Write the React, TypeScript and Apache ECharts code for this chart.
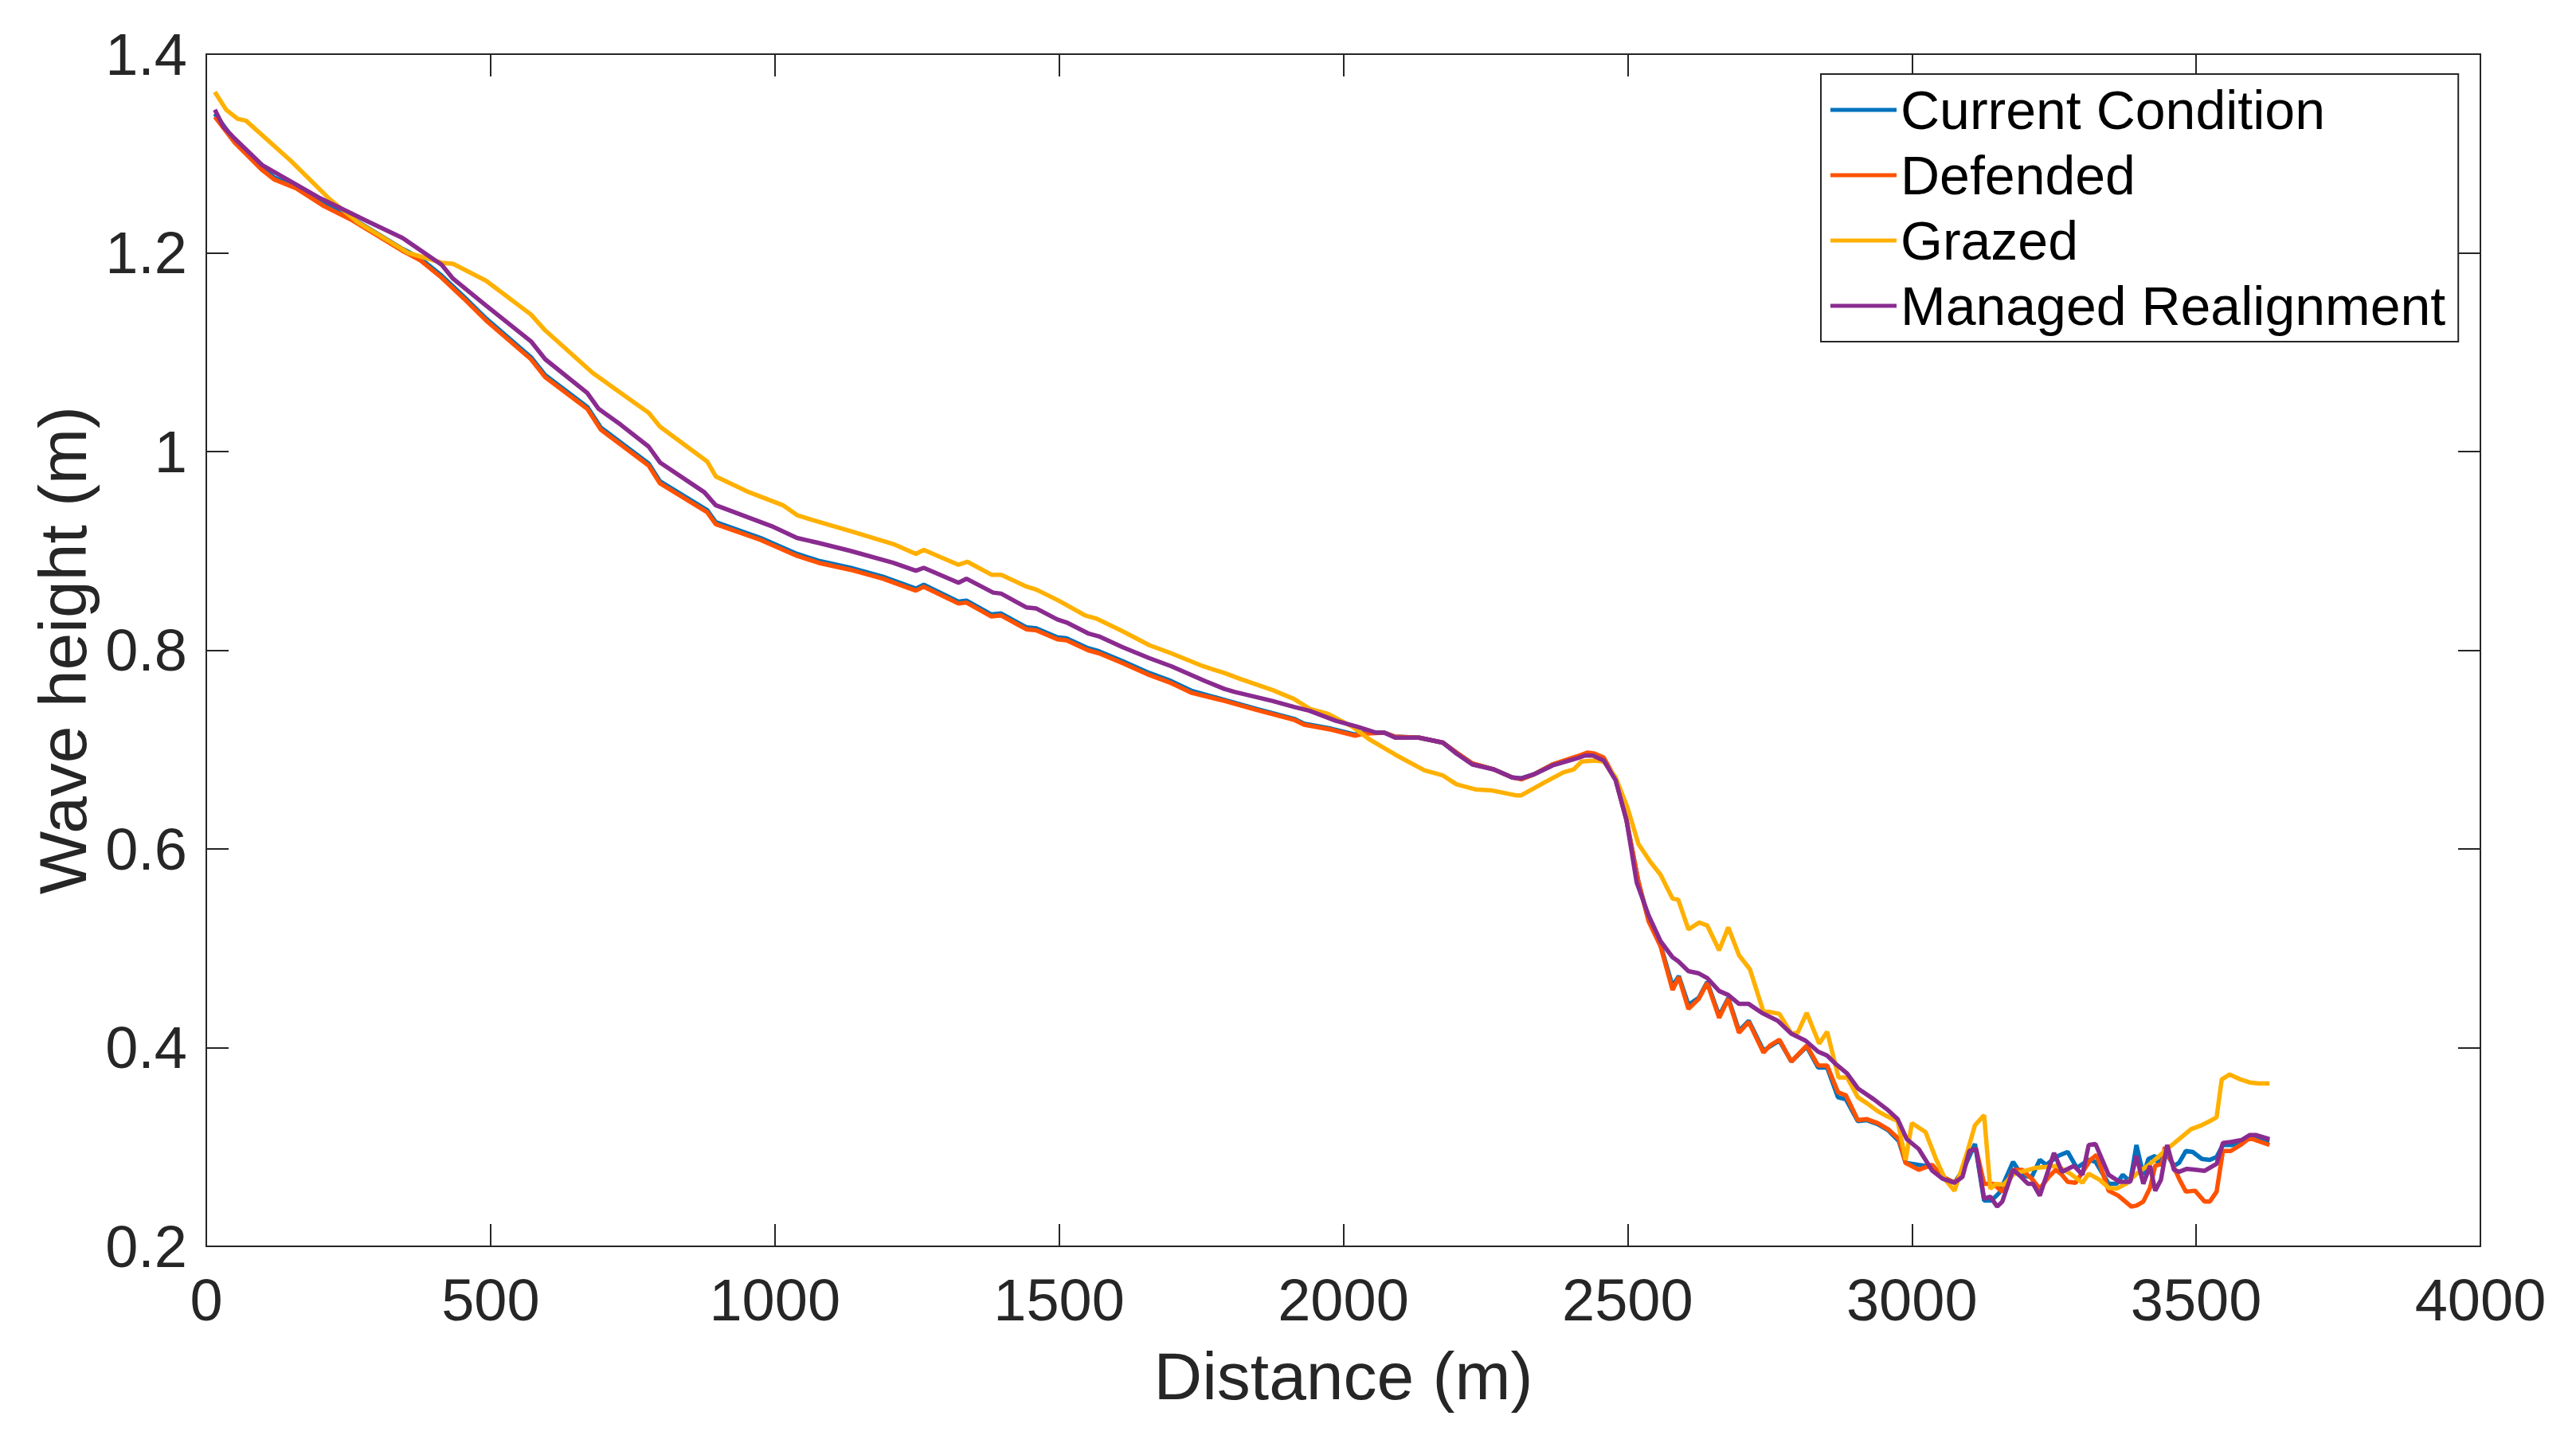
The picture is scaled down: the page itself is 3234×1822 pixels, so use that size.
import React, { useEffect, useRef } from "react";
import * as echarts from "echarts";

const seriesNames = ["Current Condition", "Defended", "Grazed", "Managed Realignment"];
const seriesColors = ["#0072BD", "#FF5200", "#FFB000", "#8A2B90"];

const xTicks = { min: 0, max: 4000, step: 500 };
const yTicks = { min: 0.2, max: 1.4, step: 0.2 };

const currentDist = [15, 50, 99, 119, 158, 207, 256, 345, 375, 414, 453, 492, 571, 596, 670, 694, 778, 798, 881, 896, 975, 1039, 1077, 1133, 1190, 1248, 1262, 1323, 1337, 1381, 1398, 1443, 1460, 1497, 1513, 1551, 1570, 1612, 1659, 1697, 1734, 1791, 1847, 1913, 1931, 1979, 2021, 2035, 2072, 2091, 2133, 2175, 2199, 2227, 2265, 2297, 2313, 2335, 2368, 2410, 2429, 2442, 2458, 2479, 2498, 2519, 2537, 2558, 2579, 2590, 2607, 2625, 2640, 2661, 2677, 2696, 2713, 2739, 2750, 2767, 2788, 2815, 2835, 2851, 2870, 2884, 2905, 2921, 2940, 2958, 2977, 2989, 3012, 3036, 3054, 3075, 3091, 3111, 3127, 3140, 3154, 3178, 3194, 3211, 3225, 3236, 3257, 3274, 3290, 3311, 3323, 3346, 3360, 3371, 3384, 3395, 3407, 3416, 3428, 3435, 3445, 3461, 3470, 3482, 3494, 3510, 3524, 3536, 3547, 3564, 3583, 3594, 3629];
const currentHeight = [1.340, 1.313, 1.285, 1.276, 1.266, 1.249, 1.235, 1.204, 1.195, 1.177, 1.156, 1.134, 1.095, 1.077, 1.045, 1.024, 0.988, 0.970, 0.941, 0.929, 0.913, 0.897, 0.890, 0.883, 0.874, 0.862, 0.866, 0.849, 0.850, 0.836, 0.837, 0.823, 0.822, 0.813, 0.812, 0.802, 0.799, 0.789, 0.777, 0.769, 0.759, 0.750, 0.741, 0.731, 0.726, 0.721, 0.715, 0.717, 0.717, 0.713, 0.712, 0.707, 0.697, 0.686, 0.680, 0.672, 0.671, 0.675, 0.685, 0.692, 0.696, 0.695, 0.691, 0.670, 0.629, 0.567, 0.528, 0.503, 0.462, 0.472, 0.443, 0.450, 0.466, 0.432, 0.450, 0.417, 0.427, 0.397, 0.401, 0.407, 0.386, 0.401, 0.380, 0.380, 0.350, 0.348, 0.326, 0.327, 0.323, 0.317, 0.306, 0.284, 0.282, 0.280, 0.270, 0.264, 0.278, 0.303, 0.246, 0.246, 0.254, 0.285, 0.271, 0.270, 0.287, 0.282, 0.291, 0.295, 0.279, 0.287, 0.285, 0.263, 0.263, 0.272, 0.265, 0.302, 0.272, 0.288, 0.291, 0.281, 0.296, 0.281, 0.284, 0.296, 0.295, 0.288, 0.287, 0.290, 0.302, 0.302, 0.306, 0.310, 0.306];

const defendedDist = [15, 50, 99, 119, 158, 207, 256, 345, 375, 414, 453, 492, 571, 596, 670, 694, 778, 798, 881, 896, 975, 1039, 1077, 1133, 1190, 1248, 1262, 1323, 1337, 1381, 1398, 1443, 1460, 1497, 1513, 1551, 1570, 1612, 1659, 1697, 1734, 1791, 1847, 1913, 1931, 1979, 2021, 2035, 2072, 2091, 2133, 2175, 2199, 2227, 2265, 2297, 2313, 2335, 2368, 2410, 2429, 2442, 2458, 2479, 2498, 2519, 2537, 2558, 2579, 2590, 2607, 2625, 2640, 2661, 2677, 2696, 2713, 2739, 2750, 2767, 2788, 2815, 2835, 2851, 2870, 2884, 2905, 2921, 2940, 2958, 2977, 2989, 3012, 3036, 3054, 3075, 3091, 3101, 3113, 3127, 3143, 3159, 3178, 3194, 3211, 3225, 3241, 3253, 3264, 3274, 3288, 3314, 3325, 3346, 3363, 3386, 3395, 3407, 3419, 3428, 3440, 3445, 3470, 3482, 3498, 3515, 3524, 3536, 3547, 3561, 3578, 3594, 3629];
const defendedHeight = [1.337, 1.311, 1.283, 1.274, 1.265, 1.247, 1.233, 1.202, 1.193, 1.175, 1.154, 1.132, 1.093, 1.075, 1.043, 1.022, 0.986, 0.968, 0.939, 0.927, 0.911, 0.895, 0.888, 0.881, 0.872, 0.860, 0.864, 0.847, 0.848, 0.834, 0.835, 0.821, 0.820, 0.811, 0.810, 0.800, 0.797, 0.787, 0.775, 0.767, 0.757, 0.749, 0.740, 0.730, 0.725, 0.720, 0.714, 0.716, 0.717, 0.713, 0.712, 0.707, 0.697, 0.686, 0.680, 0.672, 0.670, 0.675, 0.685, 0.693, 0.697, 0.696, 0.692, 0.670, 0.629, 0.567, 0.527, 0.502, 0.458, 0.471, 0.439, 0.449, 0.465, 0.430, 0.449, 0.415, 0.426, 0.395, 0.402, 0.408, 0.386, 0.402, 0.382, 0.382, 0.355, 0.352, 0.327, 0.328, 0.324, 0.318, 0.308, 0.284, 0.277, 0.282, 0.270, 0.264, 0.276, 0.296, 0.298, 0.263, 0.263, 0.255, 0.277, 0.277, 0.268, 0.258, 0.270, 0.277, 0.272, 0.265, 0.264, 0.287, 0.292, 0.256, 0.251, 0.240, 0.241, 0.245, 0.259, 0.281, 0.283, 0.300, 0.268, 0.255, 0.256, 0.245, 0.245, 0.255, 0.296, 0.296, 0.302, 0.309, 0.302];

const grazedDist = [15, 35, 55, 70, 148, 217, 266, 355, 414, 434, 492, 571, 596, 680, 778, 798, 881, 896, 955, 1014, 1039, 1067, 1133, 1208, 1248, 1262, 1323, 1339, 1381, 1398, 1443, 1460, 1499, 1546, 1565, 1612, 1659, 1697, 1753, 1791, 1819, 1875, 1913, 1941, 1973, 2016, 2044, 2091, 2143, 2175, 2199, 2232, 2260, 2303, 2313, 2354, 2387, 2405, 2419, 2442, 2458, 2479, 2500, 2519, 2540, 2558, 2579, 2589, 2607, 2626, 2640, 2661, 2677, 2696, 2715, 2739, 2750, 2767, 2788, 2799, 2815, 2837, 2851, 2871, 2886, 2905, 2921, 2940, 2956, 2975, 2989, 3000, 3024, 3043, 3059, 3075, 3099, 3111, 3127, 3138, 3148, 3161, 3180, 3199, 3218, 3255, 3279, 3300, 3311, 3330, 3346, 3360, 3377, 3395, 3419, 3447, 3470, 3491, 3510, 3524, 3536, 3545, 3559, 3578, 3594, 3610, 3629];
const grazedHeight = [1.362, 1.344, 1.335, 1.333, 1.293, 1.254, 1.231, 1.200, 1.190, 1.189, 1.172, 1.138, 1.122, 1.079, 1.039, 1.025, 0.990, 0.975, 0.959, 0.946, 0.936, 0.931, 0.920, 0.907, 0.897, 0.901, 0.886, 0.889, 0.876, 0.876, 0.864, 0.861, 0.850, 0.835, 0.832, 0.819, 0.805, 0.797, 0.784, 0.777, 0.771, 0.760, 0.751, 0.741, 0.736, 0.723, 0.711, 0.695, 0.679, 0.674, 0.665, 0.660, 0.659, 0.654, 0.654, 0.667, 0.677, 0.680, 0.688, 0.689, 0.688, 0.672, 0.641, 0.605, 0.587, 0.574, 0.550, 0.549, 0.519, 0.526, 0.523, 0.498, 0.521, 0.493, 0.479, 0.436, 0.436, 0.434, 0.414, 0.415, 0.435, 0.404, 0.416, 0.370, 0.370, 0.350, 0.344, 0.336, 0.331, 0.326, 0.287, 0.324, 0.315, 0.287, 0.267, 0.256, 0.298, 0.322, 0.332, 0.258, 0.263, 0.262, 0.273, 0.276, 0.279, 0.281, 0.273, 0.264, 0.273, 0.267, 0.259, 0.258, 0.263, 0.273, 0.283, 0.297, 0.308, 0.318, 0.322, 0.326, 0.330, 0.368, 0.373, 0.368, 0.365, 0.364, 0.364];

const managedDist = [15, 30, 50, 99, 197, 286, 345, 414, 434, 492, 571, 596, 670, 690, 729, 778, 798, 876, 896, 994, 1039, 1077, 1133, 1208, 1248, 1262, 1323, 1337, 1384, 1398, 1443, 1460, 1497, 1513, 1551, 1570, 1612, 1659, 1697, 1757, 1791, 1809, 1875, 1913, 1941, 1987, 2025, 2058, 2072, 2091, 2133, 2175, 2199, 2227, 2265, 2297, 2313, 2335, 2368, 2410, 2425, 2439, 2458, 2479, 2498, 2516, 2537, 2558, 2579, 2589, 2607, 2624, 2640, 2661, 2677, 2696, 2713, 2736, 2764, 2788, 2813, 2835, 2851, 2867, 2886, 2905, 2933, 2956, 2975, 2991, 3012, 3036, 3054, 3075, 3089, 3101, 3113, 3127, 3138, 3150, 3159, 3178, 3190, 3204, 3213, 3225, 3250, 3264, 3285, 3300, 3311, 3323, 3346, 3365, 3384, 3395, 3407, 3419, 3428, 3438, 3449, 3461, 3470, 3484, 3501, 3515, 3536, 3547, 3561, 3580, 3594, 3606, 3629];
const managedHeight = [1.344, 1.327, 1.315, 1.288, 1.256, 1.231, 1.215, 1.188, 1.174, 1.147, 1.111, 1.093, 1.059, 1.043, 1.027, 1.005, 0.989, 0.959, 0.946, 0.925, 0.913, 0.908, 0.900, 0.888, 0.880, 0.883, 0.868, 0.872, 0.858, 0.857, 0.843, 0.842, 0.831, 0.828, 0.817, 0.814, 0.803, 0.792, 0.784, 0.769, 0.761, 0.758, 0.749, 0.743, 0.739, 0.729, 0.723, 0.717, 0.717, 0.712, 0.712, 0.707, 0.696, 0.685, 0.680, 0.672, 0.671, 0.675, 0.684, 0.691, 0.694, 0.694, 0.689, 0.669, 0.629, 0.566, 0.533, 0.507, 0.491, 0.487, 0.477, 0.475, 0.470, 0.457, 0.453, 0.444, 0.444, 0.435, 0.427, 0.414, 0.407, 0.396, 0.392, 0.383, 0.374, 0.359, 0.348, 0.338, 0.328, 0.308, 0.298, 0.276, 0.268, 0.264, 0.270, 0.296, 0.298, 0.248, 0.250, 0.240, 0.245, 0.277, 0.271, 0.263, 0.263, 0.251, 0.294, 0.275, 0.281, 0.272, 0.302, 0.303, 0.272, 0.265, 0.265, 0.291, 0.263, 0.281, 0.256, 0.267, 0.302, 0.277, 0.275, 0.278, 0.277, 0.276, 0.283, 0.304, 0.305, 0.307, 0.312, 0.312, 0.308];

const zip = (xs: number[], ys: number[]) => xs.map((x, i) => [x, ys[i]]);

const FONT = "'Liberation Sans', Arial, Helvetica, sans-serif";
const INK = "#262626";

export default function App() {
  const ref = useRef<HTMLDivElement>(null);
  useEffect(() => {
    document.body.style.margin = "0";
    document.body.style.overflow = "hidden";
    if (!ref.current) return;
    const chart = echarts.init(ref.current, undefined, { renderer: "svg" });
    const data = [
      zip(currentDist, currentHeight),
      zip(defendedDist, defendedHeight),
      zip(grazedDist, grazedHeight),
      zip(managedDist, managedHeight),
    ];
    const tickStyle = { show: true, inside: true, length: 28, lineStyle: { color: INK, width: 2 } };
    const lineAxis = { show: true, onZero: false, lineStyle: { color: INK, width: 2 } };
    chart.setOption({
      animation: false,
      backgroundColor: "#ffffff",
      grid: { left: 259, right: 120, top: 68, bottom: 257, containLabel: false },
      legend: {
        orient: "vertical",
        left: 2286,
        top: 93,
        padding: [10, 16, 10, 12],
        itemWidth: 83,
        itemHeight: 5,
        itemGap: 12,
        icon: "rect",
        borderColor: INK,
        borderWidth: 2,
        backgroundColor: "#ffffff",
        data: seriesNames,
        textStyle: { fontFamily: FONT, fontSize: 68, color: "#000000", lineHeight: 70 },
      },
      xAxis: [
        {
          type: "value",
          min: xTicks.min,
          max: xTicks.max,
          interval: xTicks.step,
          position: "bottom",
          name: "Distance (m)",
          nameLocation: "middle",
          nameGap: 121,
          nameTextStyle: { fontFamily: FONT, fontSize: 84, color: INK },
          axisLine: lineAxis,
          axisTick: tickStyle,
          axisLabel: {
            fontFamily: FONT,
            fontSize: 74,
            color: INK,
            margin: 30,
            formatter: (v: number) => String(v),
          },
          splitLine: { show: false },
        },
        {
          type: "value",
          min: xTicks.min,
          max: xTicks.max,
          interval: xTicks.step,
          position: "top",
          axisLine: lineAxis,
          axisTick: tickStyle,
          axisLabel: { show: false },
          splitLine: { show: false },
        },
      ],
      yAxis: [
        {
          type: "value",
          min: yTicks.min,
          max: yTicks.max,
          interval: yTicks.step,
          position: "left",
          name: "Wave height (m)",
          nameLocation: "middle",
          nameGap: 135,
          nameTextStyle: { fontFamily: FONT, fontSize: 84, color: INK },
          axisLine: lineAxis,
          axisTick: tickStyle,
          axisLabel: {
            fontFamily: FONT,
            fontSize: 74,
            color: INK,
            margin: 24,
            formatter: (v: number) => String(Math.round(v * 10) / 10),
          },
          splitLine: { show: false },
        },
        {
          type: "value",
          min: yTicks.min,
          max: yTicks.max,
          interval: yTicks.step,
          position: "right",
          axisLine: lineAxis,
          axisTick: tickStyle,
          axisLabel: { show: false },
          splitLine: { show: false },
        },
      ],
      series: seriesNames.map((name, i) => ({
        name,
        type: "line",
        data: data[i],
        xAxisIndex: 0,
        yAxisIndex: 0,
        symbol: "none",
        showSymbol: false,
        color: seriesColors[i],
        lineStyle: { color: seriesColors[i], width: 5.5 },
        z: 2 + i,
      })),
    });
    return () => chart.dispose();
  }, []);
  return <div ref={ref} style={{ width: 3234, height: 1822 }} />;
}
